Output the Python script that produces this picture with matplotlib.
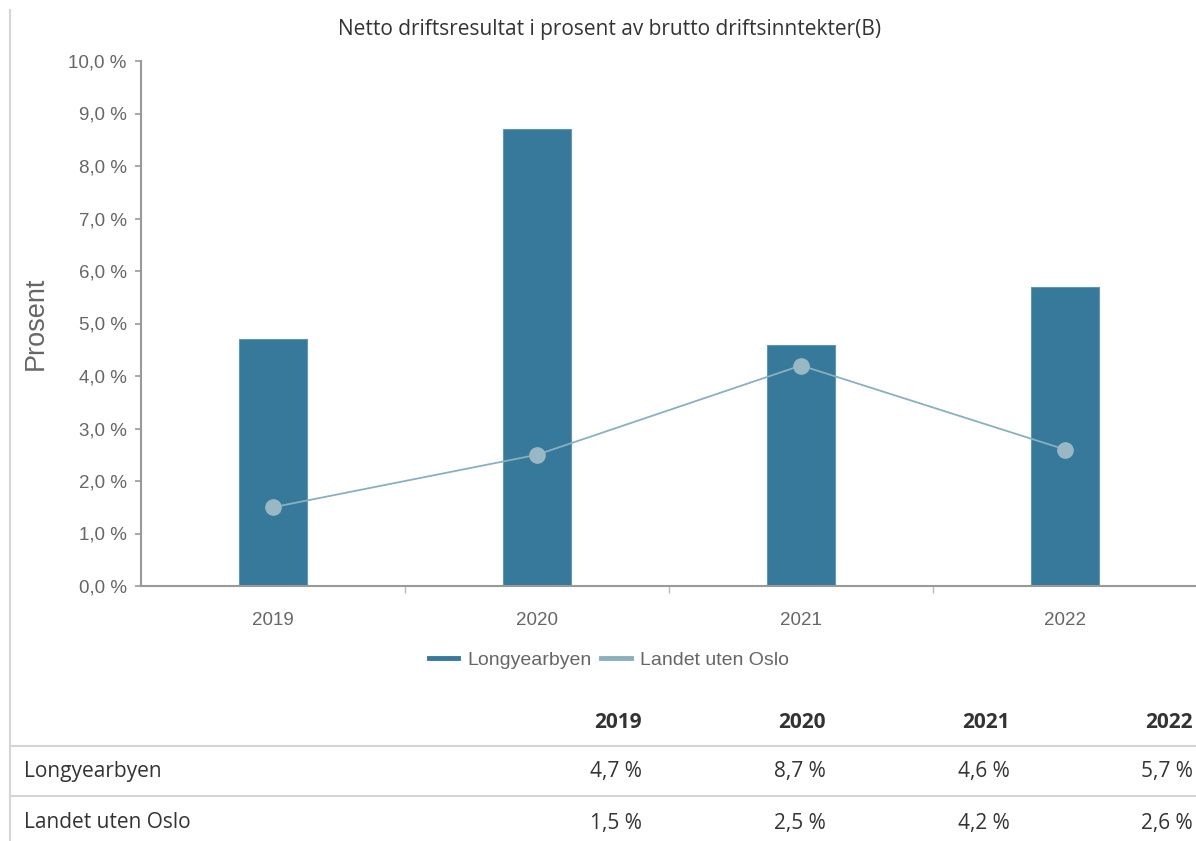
import matplotlib
matplotlib.use("Agg")
import matplotlib.pyplot as plt
from matplotlib.lines import Line2D
import numpy as np

years = ["2019", "2020", "2021", "2022"]
longyearbyen = [4.7, 8.7, 4.6, 5.7]
landet_uten_oslo = [1.5, 2.5, 4.2, 2.6]
series_names = ["Longyearbyen", "Landet uten Oslo"]
yticks = [0, 1, 2, 3, 4, 5, 6, 7, 8, 9, 10]
title = "Netto driftsresultat i prosent av brutto driftsinntekter(B)"

W, H = 1196, 841
fig = plt.figure(figsize=(W / 100, H / 100), dpi=100)

def fx(px):
    return px / W

def fy(py):
    return 1 - py / H

bar_color = "#36799A"
line_color = "#89B0BE"
marker_color = "#9AB8C4"
tick_gray = "#666666"
axis_gray = "#999999"
text_dark = "#333333"

ax = fig.add_axes([fx(141), fy(586), fx(1197) - fx(141), fy(61) - fy(586)])
x = np.arange(len(years))
ax.bar(x, longyearbyen, width=0.255, color=bar_color, edgecolor="#5E98B2",
       linewidth=0.8, zorder=2)
ax.plot(x, landet_uten_oslo, color=line_color, linewidth=1.3, marker="o",
        markersize=11, markerfacecolor=marker_color, markeredgecolor=marker_color,
        zorder=3)
ax.set_xlim(-0.5, len(years) - 0.5)
ax.set_ylim(0, 10)
ax.set_yticks(yticks)
ax.set_yticklabels([f"{v:.1f} %".replace(".", ",") for v in yticks],
                   fontsize=13.5, color=tick_gray, family="Liberation Sans")
ax.set_xticks(x)
ax.set_xticklabels(years, fontsize=13.5, color=tick_gray, family="Liberation Sans")
ax.tick_params(axis="x", length=0, pad=19)
ax.set_xticks(np.arange(0.5, len(years) - 0.5, 1.0), minor=True)
ax.tick_params(axis="x", which="minor", length=5, color="#bbbbbb", width=1)
ax.tick_params(axis="y", length=4.3, color=axis_gray, width=1.2, pad=6)
for s in ["top", "right"]:
    ax.spines[s].set_visible(False)
ax.spines["left"].set_color(axis_gray)
ax.spines["left"].set_linewidth(1.5)
ax.spines["bottom"].set_color(axis_gray)
ax.spines["bottom"].set_linewidth(1.5)
ax.set_ylabel("Prosent", fontsize=19.5, color=tick_gray, family="Liberation Sans",
              labelpad=14)

fig.text(fx(610), fy(30), title, ha="center", va="center", fontsize=15,
         color=text_dark, family="Open Sans")

handles = [Line2D([0], [0], color=bar_color, linewidth=3.5),
           Line2D([0], [0], color=line_color, linewidth=3.5)]
fig.legend(handles, series_names, loc="center", bbox_to_anchor=(fx(609), fy(660)),
           ncol=2, frameon=False, handlelength=1.5, columnspacing=0.5,
           handletextpad=0.5,
           prop={"family": "Liberation Sans", "size": 14}, labelcolor=tick_gray)

# left border line
fig.add_artist(Line2D([fx(10), fx(10)], [fy(10), fy(841)], color="#d6d6d6",
                      linewidth=1.5))

# table
col_x = [642, 826, 1010, 1193]
for cx, yr in zip(col_x, years):
    fig.text(fx(cx), fy(723), yr, ha="right", va="center", fontsize=15,
             fontweight="bold", color=text_dark, family="Open Sans")
for ly in [746, 796]:
    fig.add_artist(Line2D([fx(10), fx(1196)], [fy(ly), fy(ly)], color="#d4d4d4",
                          linewidth=1.5))
rows = [longyearbyen, landet_uten_oslo]
row_y = [772, 823]
for name, vals, ry in zip(series_names, rows, row_y):
    fig.text(fx(24), fy(ry), name, ha="left", va="center", fontsize=15,
             color=text_dark, family="Open Sans")
    for cx, v in zip(col_x, vals):
        fig.text(fx(cx), fy(ry), f"{v:.1f} %".replace(".", ","), ha="right",
                 va="center", fontsize=15, color=text_dark, family="Open Sans")

fig.savefig("out.png", dpi=100)
